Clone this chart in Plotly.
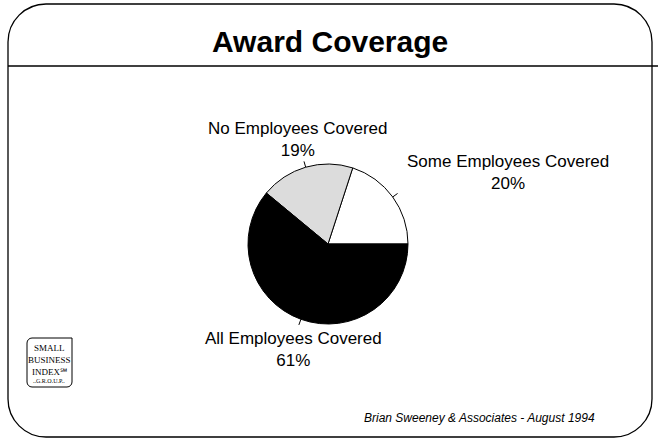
import math
import plotly.graph_objects as go

# Survey result: share of firms by award coverage
categories = ["Some Employees Covered", "No Employees Covered", "All Employees Covered"]
shares = [20, 19, 61]
slice_colors = ["#ffffff", "#dcdcdc", "#000000"]

title_text = "Award Coverage"
footer_text = "Brian Sweeney & Associates - August 1994"
logo_lines = ["SMALL", "BUSINESS", "INDEX\u2120"]

W, H = 660, 441
FONT = "Liberation Sans, Arial, sans-serif"

# pie geometry in page pixels
cx, cy, r = 328, 244, 80

# label anchor (pixel) for each slice, in category order
label_pos = [(508, 172), (298, 139), (293, 349)]

total = sum(shares)
# plotly places the first counterclockwise slice *before* the rotation angle,
# so shift by its sweep to make it begin at 3 o'clock
rotation = 90 - 360.0 * shares[0] / total

fig = go.Figure()

# invisible pixel-space axes for the frame, ticks and text
fig.add_trace(go.Scatter(x=[], y=[], showlegend=False, hoverinfo="skip"))

fig.add_trace(go.Pie(
    labels=categories,
    values=shares,
    sort=False,
    direction="counterclockwise",
    rotation=rotation,
    textinfo="none",
    hoverinfo="label+percent",
    marker=dict(colors=slice_colors, line=dict(color="#000000", width=1)),
    domain=dict(x=[(cx - r) / W, (cx + r) / W], y=[1 - (cy + r) / H, 1 - (cy - r) / H]),
    showlegend=False,
))

shapes = []
annotations = []

# rounded outer frame
x0, x1, y0, y1, R = 8, 652, 4, 437, 38
k = 0.5523 * R
frame = (
    f"M {x0 + R},{y0} L {x1 - R},{y0} "
    f"C {x1 - R + k},{y0} {x1},{y0 + R - k} {x1},{y0 + R} "
    f"L {x1},{y1 - R} "
    f"C {x1},{y1 - R + k} {x1 - R + k},{y1} {x1 - R},{y1} "
    f"L {x0 + R},{y1} "
    f"C {x0 + R - k},{y1} {x0},{y1 - R + k} {x0},{y1 - R} "
    f"L {x0},{y0 + R} "
    f"C {x0},{y0 + R - k} {x0 + R - k},{y0} {x0 + R},{y0} Z"
)
shapes.append(dict(type="path", path=frame, xref="x", yref="y",
                   line=dict(color="#000000", width=1.3), layer="below"))
# divider under the title
shapes.append(dict(type="line", xref="x", yref="y", x0=x0, x1=658, y0=66, y1=66,
                   line=dict(color="#000000", width=1.3)))

# radial leader ticks at each slice's mid-angle, labels with percentages
start = 0.0
for name, val, (lx, ly) in zip(categories, shares, label_pos):
    sweep = 360.0 * val / total
    mid = math.radians(start + sweep / 2)
    start += sweep
    ux, uy = math.cos(mid), -math.sin(mid)
    shapes.append(dict(type="line", xref="x", yref="y",
                       x0=cx + ux * r, y0=cy + uy * r,
                       x1=cx + ux * (r + 6), y1=cy + uy * (r + 6),
                       line=dict(color="#000000", width=1)))
    annotations.append(dict(x=lx, y=ly, xref="x", yref="y", showarrow=False,
                            text=f"{name}<br>{round(100 * val / total)}%",
                            font=dict(family=FONT, size=17, color="#000000"),
                            xanchor="center", yanchor="middle", align="center"))

# title and footer
annotations.append(dict(x=330, y=41, xref="x", yref="y", showarrow=False,
                        text=f"<b>{title_text}</b>",
                        font=dict(family=FONT, size=30, color="#000000"),
                        xanchor="center", yanchor="middle"))
annotations.append(dict(x=597, y=418, xref="x", yref="y", showarrow=False,
                        text=f"<i>{footer_text}</i>",
                        font=dict(family=FONT, size=12, color="#000000"),
                        xanchor="right", yanchor="middle"))

# small logo box, lower left
lx0, lx1, ly0, ly1, lr = 27, 72, 338, 387, 5
kl = 0.5523 * lr
logo = (
    f"M {lx0 + lr},{ly0} L {lx1},{ly0} L {lx1},{ly1 - lr} "
    f"C {lx1},{ly1 - lr + kl} {lx1 - lr + kl},{ly1} {lx1 - lr},{ly1} "
    f"L {lx0 + lr},{ly1} "
    f"C {lx0 + lr - kl},{ly1} {lx0},{ly1 - lr + kl} {lx0},{ly1 - lr} "
    f"L {lx0},{ly0 + lr} "
    f"C {lx0},{ly0 + lr - kl} {lx0 + lr - kl},{ly0} {lx0 + lr},{ly0} Z"
)
shapes.append(dict(type="path", path=logo, xref="x", yref="y",
                   line=dict(color="#000000", width=1)))
for i, line in enumerate(logo_lines):
    annotations.append(dict(x=49, y=348 + i * 12, xref="x", yref="y", showarrow=False,
                            text=line,
                            font=dict(family="Liberation Serif, serif", size=9, color="#000000"),
                            xanchor="center", yanchor="middle"))
annotations.append(dict(x=49, y=381, xref="x", yref="y", showarrow=False,
                        text="..G.R.O.U.P..",
                        font=dict(family="Liberation Serif, serif", size=6, color="#000000"),
                        xanchor="center", yanchor="middle"))

fig.update_layout(
    width=W, height=H,
    margin=dict(l=0, r=0, t=0, b=0),
    paper_bgcolor="#ffffff", plot_bgcolor="#ffffff",
    xaxis=dict(range=[0, W], visible=False, fixedrange=True),
    yaxis=dict(range=[H, 0], visible=False, fixedrange=True),
    shapes=shapes,
    annotations=annotations,
)

fig.write_html("out.html")
